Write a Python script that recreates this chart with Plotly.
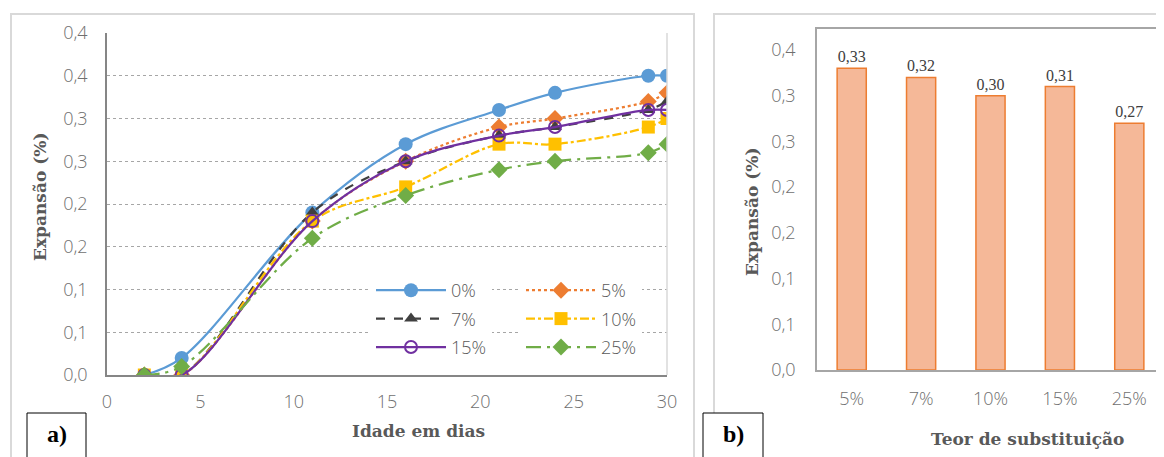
import plotly.graph_objects as go

W, H = 1164, 457
OFF = 8  # page offset of the figure (body margin)
def px(x): return (x - OFF) / W
def py(y): return 1 - (y - OFF) / H

# ---- data: panel a) ----
days = [2, 4, 11, 16, 21, 24, 29, 30]
s0 = [0, 0.02, 0.19, 0.27, 0.31, 0.33, 0.35, 0.35]
s5 = [0, 0.00, 0.18, 0.25, 0.29, 0.30, 0.32, 0.33]
s7 = [0, 0.00, 0.19, 0.25, 0.28, 0.29, 0.31, 0.32]
s10 = [0, 0.00, 0.18, 0.22, 0.27, 0.27, 0.29, 0.30]
s15 = [0, 0.00, 0.18, 0.25, 0.28, 0.29, 0.31, 0.31]
s25 = [0, 0.01, 0.16, 0.21, 0.24, 0.25, 0.26, 0.27]
series_names = ["0%", "5%", "7%", "10%", "15%", "25%"]

# ---- data: panel b) ----
bar_cats = ["5%", "7%", "10%", "15%", "25%"]
bar_vals = [0.33, 0.32, 0.30, 0.31, 0.27]

# tick labels (as shown, rounded to one decimal)
ya_vals = [0, 0.05, 0.10, 0.15, 0.20, 0.25, 0.30, 0.35, 0.40]
ya_text = ["0,0", "0,1", "0,1", "0,2", "0,2", "0,3", "0,3", "0,4", "0,4"]
yb_vals = [0, 0.05, 0.10, 0.15, 0.20, 0.25, 0.30, 0.35]
yb_text = ["0,0", "0,1", "0,1", "0,2", "0,2", "0,3", "0,3", "0,4"]
xa_vals = [0, 5, 10, 15, 20, 25, 30]

fig = go.Figure()

styles = [
    dict(color="#5B9BD5", dash="solid", symbol="circle", size=14, legend="legend"),
    dict(color="#ED7D31", dash="dot", symbol="diamond", size=13, legend="legend2"),
    dict(color="#404040", dash="dash", symbol="triangle-up", size=12, legend="legend"),
    dict(color="#FFC000", dash="dashdot", symbol="square", size=13, legend="legend2"),
    dict(color="#7030A0", dash="solid", symbol="circle-open", size=12, legend="legend"),
    dict(color="#70AD47", dash="longdashdot", symbol="diamond", size=13, legend="legend2"),
]
for name, ys, st in zip(series_names, [s0, s5, s7, s10, s15, s25], styles):
    marker = dict(symbol=st["symbol"], size=st["size"], color=st["color"])
    if st["symbol"] == "circle-open":
        marker = dict(symbol="circle-open", size=st["size"], color=st["color"], line=dict(width=2, color=st["color"]))
    fig.add_trace(go.Scatter(
        x=days, y=ys, name=name, mode="lines+markers",
        line=dict(color=st["color"], width=2.25, dash=st["dash"], shape="spline", smoothing=1),
        marker=marker, xaxis="x", yaxis="y", legend=st["legend"], legendgroup=name,
    ))

fig.add_trace(go.Bar(
    x=bar_cats, y=bar_vals, width=0.42,
    marker=dict(color="#F5B898", line=dict(color="#ED7D31", width=1.5)),
    texttemplate="%{y:.2f}", textposition="outside", cliponaxis=False,
    textfont=dict(family="Liberation Serif", size=16, color="#404040"),
    xaxis="x2", yaxis="y2", showlegend=False,
))

tickfont = dict(family="Open Sans", size=18, color="#6f6f6f", weight=300)
titlefont = dict(family="DejaVu Serif", size=17, color="#595959")
legfont = dict(family="Open Sans", size=18, color="#595959", weight=300)

fig.update_layout(
    width=W, height=H, margin=dict(l=0, r=0, t=0, b=0, autoexpand=False),
    paper_bgcolor="white", plot_bgcolor="white",
    separators=",.",
    xaxis=dict(domain=[px(107), px(667)], range=[0, 30], tickvals=xa_vals, automargin=False,
               showgrid=False, zeroline=False, showline=True, linecolor="#868686", linewidth=1.5,
               ticks="", tickfont=tickfont, ticklabelstandoff=10, anchor="y"),
    yaxis=dict(domain=[py(375), py(33)], range=[0, 0.4], tickvals=ya_vals, ticktext=ya_text,
               automargin=False,
               showgrid=True, gridcolor="#A6A6A6", griddash="dot", gridwidth=1,
               zeroline=False, showline=True, linecolor="#868686", linewidth=1.5,
               ticks="", tickfont=tickfont, ticklabelstandoff=14, anchor="x"),
    xaxis2=dict(domain=[px(817), px(1164)], range=[-0.5, 4.5], type="category", automargin=False,
                showgrid=False, zeroline=False, showline=True, mirror=True,
                linecolor="#A6A6A6", linewidth=1.5, ticks="", tickfont=tickfont,
                ticklabelstandoff=12, anchor="y2"),
    yaxis2=dict(domain=[py(370), py(29)], range=[0, 0.373], tickvals=yb_vals, ticktext=yb_text,
                automargin=False,
                showgrid=False, zeroline=False, showline=True, mirror=True,
                linecolor="#A6A6A6", linewidth=1.5, ticks="", tickfont=tickfont,
                ticklabelstandoff=16, anchor="x2"),
    legend=dict(x=px(371), y=py(272), xanchor="left", yanchor="top", bgcolor="white",
                font=legfont, itemwidth=70, tracegroupgap=2),
    legend2=dict(x=px(521), y=py(272), xanchor="left", yanchor="top", bgcolor="white",
                 font=legfont, itemwidth=70, tracegroupgap=2),
    showlegend=True,
)

shapes = [
    # panel borders
    dict(type="rect", xref="paper", yref="paper", x0=px(11), x1=px(694), y0=py(480), y1=py(14),
         line=dict(color="#D9D9D9", width=2), layer="below"),
    dict(type="rect", xref="paper", yref="paper", x0=px(714), x1=px(1190), y0=py(480), y1=py(14),
         line=dict(color="#D9D9D9", width=2), layer="below"),
    # white legend backdrop inside plot a) (covers the dotted grid)
    dict(type="rect", xref="x", yref="y", x0=13.3, x1=29.4, y0=0.015, y1=0.12,
         line=dict(width=0), fillcolor="white", layer="below"),
    # right edge of plot area a)
    dict(type="line", xref="paper", yref="paper", x0=px(667), x1=px(667), y0=py(375), y1=py(33),
         line=dict(color="#D9D9D9", width=1.5)),
    # label boxes
    dict(type="rect", xref="paper", yref="paper", x0=px(27), x1=px(86), y0=py(480), y1=py(413),
         line=dict(color="black", width=1), fillcolor="white"),
    dict(type="rect", xref="paper", yref="paper", x0=px(703), x1=px(763), y0=py(480), y1=py(413),
         line=dict(color="black", width=1), fillcolor="white"),
]
fig.update_layout(shapes=shapes)

ann = [
    dict(text="<b>Expansão (%)</b>", x=px(40), y=py(197), textangle=-90, font=titlefont),
    dict(text="<b>Idade em dias</b>", x=px(418), y=py(431), font=titlefont),
    dict(text="<b>Expansão (%)</b>", x=px(752), y=py(212), textangle=-90, font=titlefont),
    dict(text="<b>Teor de substituição</b>", x=px(1027), y=py(439), font=titlefont),
    dict(text="<b>a)</b>", x=px(57), y=py(434), font=dict(family="Liberation Serif", size=24, color="black")),
    dict(text="<b>b)</b>", x=px(733), y=py(434), font=dict(family="Liberation Serif", size=24, color="black")),
]
for a in ann:
    a.update(xref="paper", yref="paper", showarrow=False, xanchor="center", yanchor="middle")
fig.update_layout(annotations=ann)

fig.write_html("out.html")
